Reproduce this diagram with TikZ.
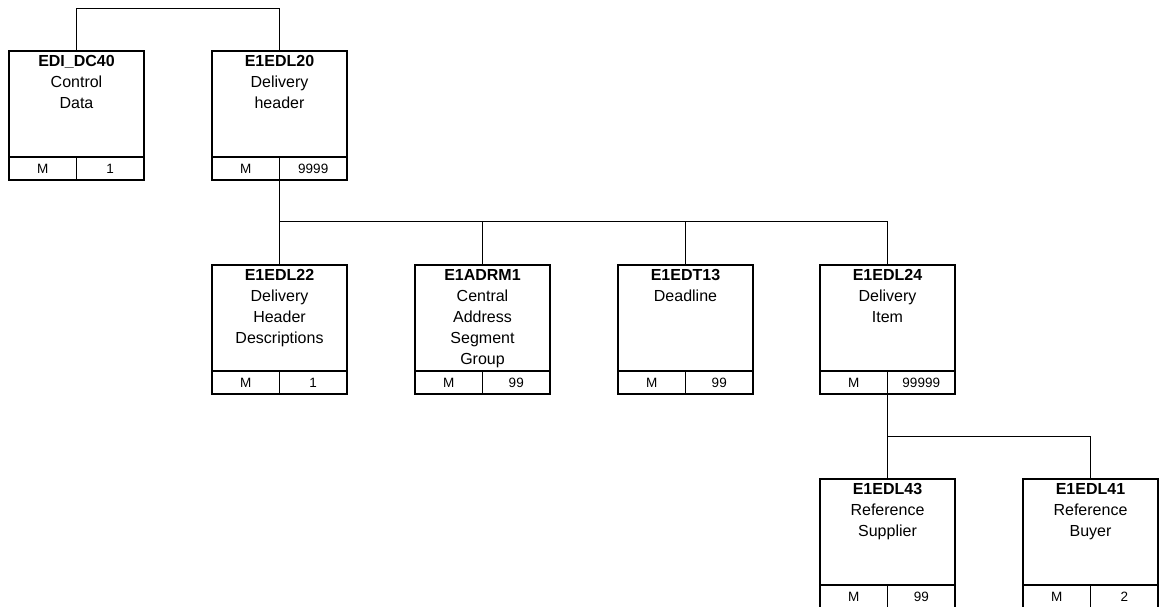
\documentclass[tikz,border=0pt]{standalone}
\usepackage{fontspec}
\setmainfont{Liberation Sans}
\begin{document}
\begin{tikzpicture}[x=1pt,y=-1pt,
  segbox/.style={draw,line width=2.4pt,fill=white,minimum width=135pt,minimum height=106pt,inner sep=0pt,outer sep=0pt},
  segtext/.style={align=center,inner sep=0pt,font=\fontsize{16}{21}\selectfont},
  cellbox/.style={draw,line width=1.6pt,fill=white,minimum width=67.5pt,minimum height=23pt,inner sep=0pt,outer sep=0pt,font=\fontsize{13.5}{15}\selectfont},
  frame/.style={draw,line width=2.4pt},
  conn/.style={draw,line width=0.9pt}]
\useasboundingbox (0,0) rectangle (1160,606);
\clip (0,0) rectangle (1160,606);
\newcommand\segment[7]{%
  \node[segbox,anchor=north] (#1) at (#2,#3) {};
  \node[segtext,anchor=north] (#1t) at ([yshift=-4.2pt]#1.north) {\textbf{#4}\\#5};
  \node[cellbox,anchor=north west] (#1m) at (#1.south west) {#6};
  \node[cellbox,anchor=north east] (#1c) at (#1.south east) {#7};
  \draw[frame] (#1.south west) -- (#1.south east);
  \draw[frame] (#1.north west) rectangle (#1c.south east);
}
% connectors
\coordinate (top) at (76.5,8);
\coordinate (b1) at (279.5,221);
\coordinate (b2) at (887.5,436);
\draw[conn] (76.5,51) -- (top) -| (279.5,51);
\draw[conn] (279.5,180) -- (b1) -- (279.5,265);
\draw[conn] (b1) -| (482.5,265);
\draw[conn] (b1) -| (685.5,265);
\draw[conn] (b1) -| (887.5,265);
\draw[conn] (887.5,394) -- (b2) -- (887.5,479);
\draw[conn] (b2) -| (1090.5,479);
% boxes
\segment{dc}{76.5}{51}{EDI\_DC40}{Control\\Data}{M}{1}
\segment{l20}{279.5}{51}{E1EDL20}{Delivery\\header}{M}{9999}
\segment{l22}{279.5}{265}{E1EDL22}{Delivery\\Header\\Descriptions}{M}{1}
\segment{adrm}{482.5}{265}{E1ADRM1}{Central\\Address\\Segment\\Group}{M}{99}
\segment{dt13}{685.5}{265}{E1EDT13}{Deadline}{M}{99}
\segment{l24}{887.5}{265}{E1EDL24}{Delivery\\Item}{M}{99999}
\segment{l43}{887.5}{479}{E1EDL43}{Reference\\Supplier}{M}{99}
\segment{l41}{1090.5}{479}{E1EDL41}{Reference\\Buyer}{M}{2}
\end{tikzpicture}
\end{document}
